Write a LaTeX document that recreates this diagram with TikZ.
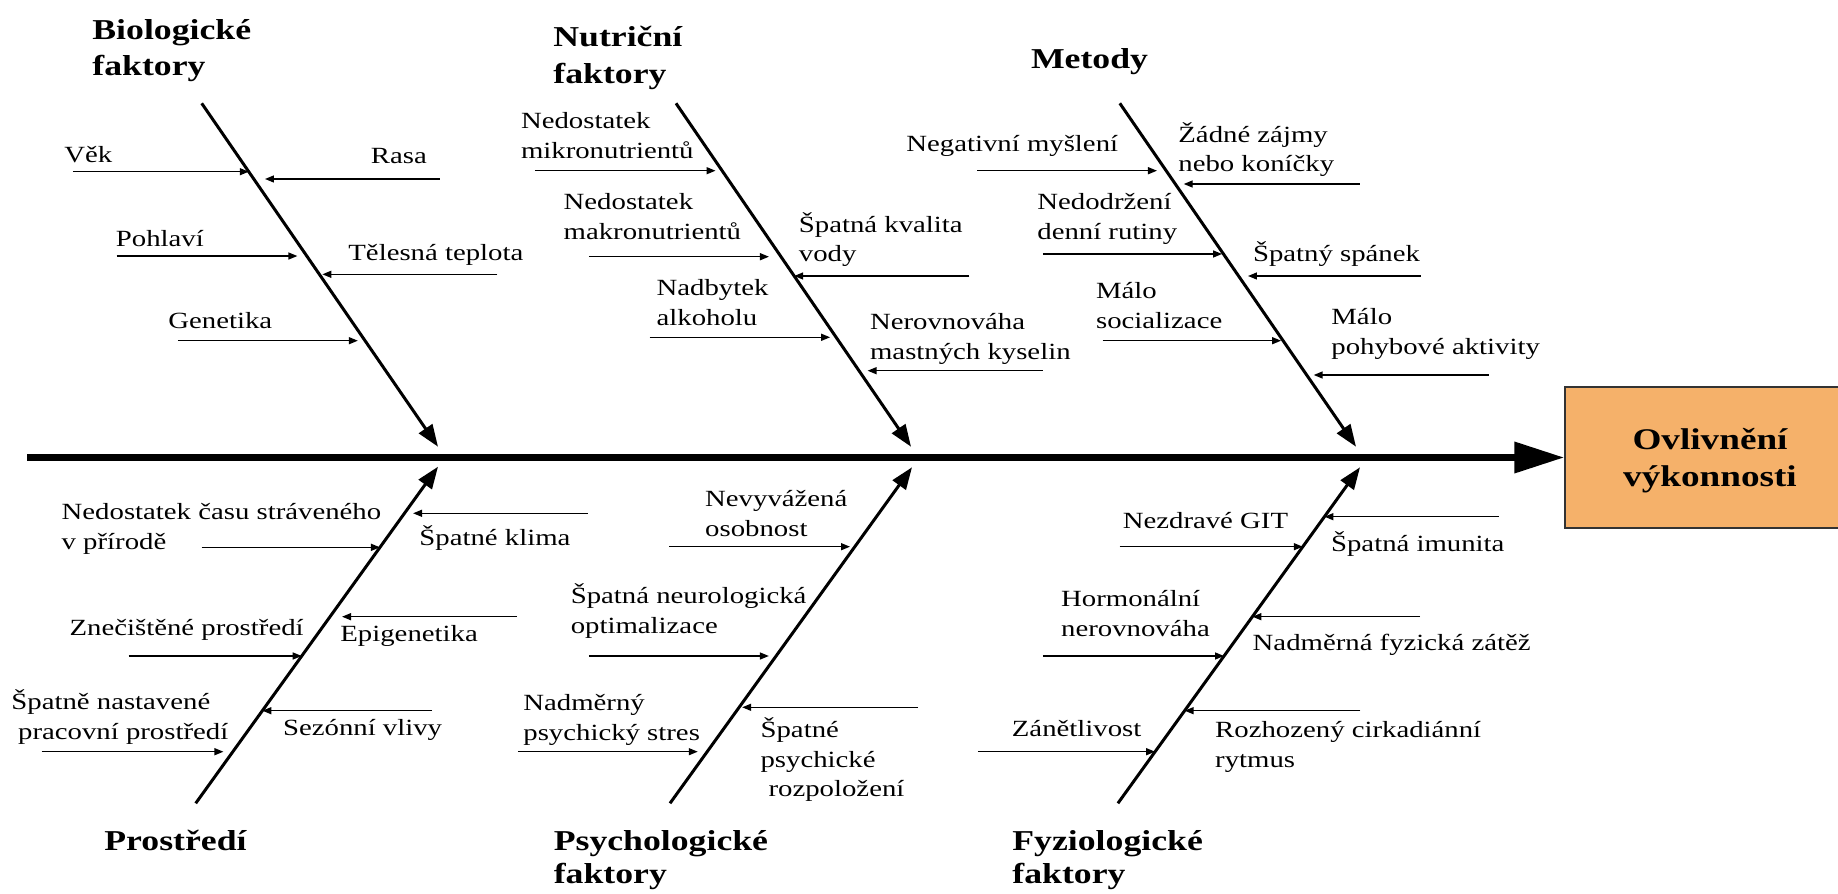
\documentclass[tikz,border=0pt]{standalone}
\usepackage{fontspec}
\setmainfont{Liberation Serif}[FakeStretch=1.24]
\usetikzlibrary{arrows.meta}

\definecolor{effectfill}{RGB}{245,177,106}

\tikzset{
  spine/.style={line width=3.5pt, -{Triangle[length=25pt,width=15pt]}},
  bone/.style={line width=1.5pt, -{Triangle[length=11pt,width=8pt]}},
  cause/.style={line width=0.7pt, -{Triangle[length=4.5pt,width=3.5pt]}},
  causetext/.style={anchor=base west, inner sep=0pt, align=left,
    font=\fontsize{11.6}{14.7}\selectfont},
  category/.style={anchor=base west, inner sep=0pt, align=left,
    font=\bfseries\fontsize{14.4}{#1}\selectfont},
  category/.default=18.3pt,
  effect/.style={draw=black!80, line width=0.75pt, fill=effectfill,
    minimum width=145pt, minimum height=70.5pt, align=center, text depth=0pt,
    font=\bfseries\fontsize{15}{18.8}\selectfont}
}

\begin{document}
\begin{tikzpicture}[x=0.5pt, y=-0.5pt]
  \useasboundingbox (0,0) rectangle (1838,894);

  % Effect and spine
  \node[effect] (effect) at (1710,457.5) {Ovlivnění\\výkonnosti};
  \coordinate (tail) at (27,457.5);
  \draw[spine] (tail) -- (effect.west);

  % Bone ends
  \coordinate (bio-s) at (201.7,103.3);  \coordinate (bio-e) at (438,446.7);
  \coordinate (nut-s) at (676,103.3);    \coordinate (nut-e) at (911,446.7);
  \coordinate (met-s) at (1119.8,103.3); \coordinate (met-e) at (1356,446.7);
  \coordinate (env-s) at (195.7,803.3);  \coordinate (env-e) at (438,466.7);
  \coordinate (psy-s) at (670,803.3);    \coordinate (psy-e) at (912,467.3);
  \coordinate (fyz-s) at (1117.9,803.3); \coordinate (fyz-e) at (1360,467.3);

  % Category labels (base = last line)
  \node[category] (bio) at (92,75.8) {Biologické\\faktory};
  \node[category] (nut) at (553,83.3) {Nutriční\\faktory};
  \node[category] (met) at (1030.6,68.3) {Metody};
  \node[category] (env) at (104,850) {Prostředí};
  \node[category=16.7pt] (psy) at (553.4,883.5) {Psychologické\\faktory};
  \node[category=16.7pt] (fyz) at (1012,883.5) {Fyziologické\\faktory};

  % Biologické faktory
  \draw[bone] (bio-s) -- (bio-e) coordinate[pos=.1992] (vek) coordinate[pos=.2204] (rasa)
    coordinate[pos=.4447] (pohlavi) coordinate[pos=.498] (teplota) coordinate[pos=.6913] (genetika);
  \draw[cause] (vek) ++(-175.8,0) coordinate (vek-in) -- (vek);
  \draw[cause, shorten >=5.6pt] (rasa) ++(186.2,0) coordinate (rasa-in) -- (rasa);
  \draw[cause, shorten >=4.7pt] (pohlavi) ++(-190.2,0) coordinate (pohlavi-in) -- (pohlavi);
  \draw[cause, shorten >=1.5pt] (teplota) ++(178,0) coordinate (teplota-in) -- (teplota);
  \draw[cause, shorten >=3.6pt] (genetika) ++(-187.1,0) coordinate (genetika-in) -- (genetika);
  \node[causetext] (t-vek) at (64,162.5) {Věk};
  \node[causetext] (t-rasa) at (370.5,163) {Rasa};
  \node[causetext] (t-pohlavi) at (115.5,246.7) {Pohlaví};
  \node[causetext] (t-teplota) at (348,260.7) {Tělesná teplota};
  \node[causetext] (t-genetika) at (168,328.3) {Genetika};

  % Nutriční faktory
  \draw[bone] (nut-s) -- (nut-e) coordinate[pos=.1963] (mikro) coordinate[pos=.4467] (makro)
    coordinate[pos=.5029] (voda) coordinate[pos=.6814] (alkohol) coordinate[pos=.7787] (kyseliny);
  \draw[cause, shorten >=3.3pt] (mikro) ++(-187.3,0) coordinate (mikro-in) -- (mikro);
  \draw[cause, shorten >=6pt] (makro) ++(-192,0) coordinate (makro-in) -- (makro);
  \draw[cause] (voda) ++(175.2,0) coordinate (voda-in) -- (voda);
  \draw[cause, shorten >=3pt] (alkohol) ++(-186.6,0) coordinate (alkohol-in) -- (alkohol);
  \draw[cause, shorten >=4.3pt] (kyseliny) ++(183.5,0) coordinate (kyseliny-in) -- (kyseliny);
  \node[causetext] (t-mikro) at (520.6,158.3) {Nedostatek\\mikronutrientů};
  \node[causetext] (t-makro) at (563.3,239.3) {Nedostatek\\makronutrientů};
  \node[causetext] (t-voda) at (798.5,261.7) {Špatná kvalita\\vody};
  \node[causetext] (t-alkohol) at (656.2,325) {Nadbytek\\alkoholu};
  \node[causetext] (t-kyseliny) at (869.7,359.3) {Nerovnováha\\mastných kyselin};

  % Metody
  \draw[bone] (met-s) -- (met-e) coordinate[pos=.1963] (mysleni) coordinate[pos=.235] (zajmy)
    coordinate[pos=.4388] (rutina) coordinate[pos=.5029] (spanek) coordinate[pos=.6913] (socializace)
    coordinate[pos=.7912] (pohyb);
  \draw[cause, shorten >=4.6pt] (mysleni) ++(-188.9,0) coordinate (mysleni-in) -- (mysleni);
  \draw[cause, shorten >=4.2pt] (zajmy) ++(184.4,0) coordinate (zajmy-in) -- (zajmy);
  \draw[cause, shorten >=0.7pt] (rutina) ++(-180.6,0) coordinate (rutina-in) -- (rutina);
  \draw[cause, shorten >=4.7pt] (spanek) ++(182.4,0) coordinate (spanek-in) -- (spanek);
  \draw[cause, shorten >=1pt] (socializace) ++(-180.5,0) coordinate (socializace-in) -- (socializace);
  \draw[cause, shorten >=3.5pt] (pohyb) ++(182.3,0) coordinate (pohyb-in) -- (pohyb);
  \node[causetext] (t-mysleni) at (906,151.7) {Negativní myšlení};
  \node[causetext] (t-zajmy) at (1178,171.7) {Žádné zájmy\\nebo koníčky};
  \node[causetext] (t-rutina) at (1037,239.3) {Nedodržení\\denní rutiny};
  \node[causetext] (t-spanek) at (1252.6,261.7) {Špatný spánek};
  \node[causetext] (t-socializace) at (1095.7,328.3) {Málo\\socializace};
  \node[causetext] (t-pohyb) at (1331,354) {Málo\\pohybové aktivity};

  % Prostředí
  \draw[bone] (env-s) -- (env-e) coordinate[pos=.7605] (priroda) coordinate[pos=.8616] (klima)
    coordinate[pos=.4376] (znecisteni) coordinate[pos=.5544] (epigenetika)
    coordinate[pos=.1533] (pracovni) coordinate[pos=.2751] (sezona);
  \draw[cause] (priroda) ++(-178.3,0) coordinate (priroda-in) -- (priroda);
  \draw[cause, shorten >=4.3pt] (klima) ++(183.5,0) coordinate (klima-in) -- (klima);
  \draw[cause] (znecisteni) ++(-173.2,0) coordinate (znecisteni-in) -- (znecisteni);
  \draw[cause, shorten >=6pt] (epigenetika) ++(187.2,0) coordinate (epigenetika-in) -- (epigenetika);
  \draw[cause, shorten >=4.7pt] (pracovni) ++(-191.3,0) coordinate (pracovni-in) -- (pracovni);
  \draw[cause] (sezona) ++(169.8,0) coordinate (sezona-in) -- (sezona);
  \node[causetext] (t-priroda) at (61.3,549.3) {Nedostatek času stráveného\\v přírodě};
  \node[causetext] (t-klima) at (419,545) {Špatné klima};
  \node[causetext] (t-znecisteni) at (69.2,635) {Znečištěné prostředí};
  \node[causetext] (t-epigenetika) at (340,641.7) {Epigenetika};
  \node[causetext] (t-pracovni) at (11,739.3) {Špatně nastavené\\\hspace*{3.4pt}pracovní prostředí};
  \node[causetext] (t-sezona) at (282.7,735) {Sezónní vlivy};

  % Psychologické faktory
  \draw[bone] (psy-s) -- (psy-e) coordinate[pos=.7637] (osobnost) coordinate[pos=.4384] (neuro)
    coordinate[pos=.1536] (stres) coordinate[pos=.2857] (rozpolozeni);
  \draw[cause, shorten >=2.4pt] (osobnost) ++(-185.6,0) coordinate (osobnost-in) -- (osobnost);
  \draw[cause, shorten >=3.6pt] (neuro) ++(-187.1,0) coordinate (neuro-in) -- (neuro);
  \draw[cause, shorten >=4.7pt] (stres) ++(-189.4,0) coordinate (stres-in) -- (stres);
  \draw[cause, shorten >=1.5pt] (rozpolozeni) ++(178.9,0) coordinate (rozpolozeni-in) -- (rozpolozeni);
  \node[causetext] (t-osobnost) at (704.8,536) {Nevyvážená\\osobnost};
  \node[causetext] (t-neuro) at (570.4,633.3) {Špatná neurologická\\optimalizace};
  \node[causetext] (t-stres) at (523,740) {Nadměrný\\psychický stres};
  \node[causetext] (t-rozpolozeni) at (760.2,796.7) {Špatné\\psychické\\\hspace*{4pt}rozpoložení};

  % Fyziologické faktory
  \draw[bone] (fyz-s) -- (fyz-e) coordinate[pos=.7637] (git) coordinate[pos=.853] (imunita)
    coordinate[pos=.4384] (hormon) coordinate[pos=.5554] (zatez)
    coordinate[pos=.1536] (zanet) coordinate[pos=.2756] (rytmus);
  \draw[cause] (git) ++(-183.2,0) coordinate (git-in) -- (git);
  \draw[cause] (imunita) ++(174.2,0) coordinate (imunita-in) -- (imunita);
  \draw[cause] (hormon) ++(-181.1,0) coordinate (hormon-in) -- (hormon);
  \draw[cause] (zatez) ++(167.8,0) coordinate (zatez-in) -- (zatez);
  \draw[cause] (zanet) ++(-177.2,0) coordinate (zanet-in) -- (zanet);
  \draw[cause] (rytmus) ++(175.7,0) coordinate (rytmus-in) -- (rytmus);
  \node[causetext] (t-git) at (1122.4,528.3) {Nezdravé GIT};
  \node[causetext] (t-imunita) at (1330.7,551.7) {Špatná imunita};
  \node[causetext] (t-hormon) at (1060.8,636) {Hormonální\\nerovnováha};
  \node[causetext] (t-zatez) at (1252.3,650.7) {Nadměrná fyzická zátěž};
  \node[causetext] (t-zanet) at (1011.5,736.7) {Zánětlivost};
  \node[causetext] (t-rytmus) at (1214.8,767.3) {Rozhozený cirkadiánní\\rytmus};
\end{tikzpicture}
\end{document}
